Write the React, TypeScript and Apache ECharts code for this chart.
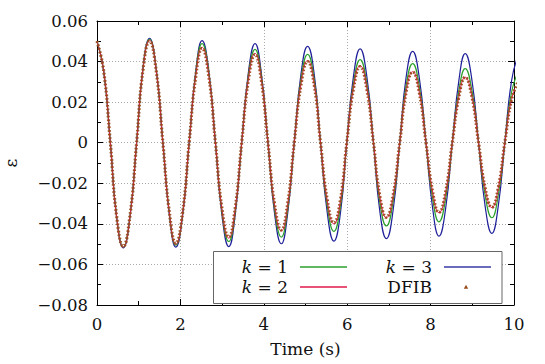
import React, { useEffect, useRef } from "react";
import * as echarts from "echarts";

const times = [
  0, 0.16, 0.32, 0.47, 0.63, 0.79, 0.95, 1.1,
  1.26, 1.42, 1.58, 1.74, 1.89, 2.05, 2.21, 2.37,
  2.52, 2.68, 2.84, 3.0, 3.16, 3.31, 3.47, 3.63,
  3.79, 3.94, 4.1, 4.26, 4.42, 4.57, 4.73, 4.89,
  5.05, 5.21, 5.36, 5.52, 5.68, 5.84, 5.99, 6.15,
  6.31, 6.47, 6.63, 6.78, 6.94, 7.1, 7.26, 7.41,
  7.57, 7.73, 7.89, 8.05, 8.2, 8.36, 8.52, 8.68,
  8.83, 8.99, 9.15, 9.31, 9.47, 9.62, 9.78, 9.94,
  10.1,
];

const k1 = [
  0.05, 0.0354, 0, -0.0364, -0.0515, -0.0364, 0, 0.0361,
  0.051, 0.0361, 0, -0.0357, -0.0505, -0.0357, 0, 0.0345,
  0.0488, 0.0345, 0, -0.0344, -0.0487, -0.0344, 0, 0.0325,
  0.046, 0.0325, 0, -0.0329, -0.0465, -0.0329, 0, 0.0308,
  0.0435, 0.0308, 0, -0.0309, -0.0437, -0.0309, 0, 0.029,
  0.041, 0.029, 0, -0.029, -0.041, -0.029, 0, 0.0276,
  0.039, 0.0276, 0, -0.0276, -0.039, -0.0276, 0, 0.0258,
  0.0365, 0.0258, 0, -0.0262, -0.037, -0.0262, 0, 0.0247,
  0.035,
];

const k2 = [
  0.05, 0.0354, 0, -0.0364, -0.0515, -0.0364, 0, 0.0357,
  0.0505, 0.0357, 0, -0.0354, -0.05, -0.0354, 0, 0.0332,
  0.047, 0.0332, 0, -0.0332, -0.047, -0.0332, 0, 0.0311,
  0.044, 0.0311, 0, -0.0308, -0.0435, -0.0308, 0, 0.0286,
  0.0405, 0.0286, 0, -0.0283, -0.04, -0.0283, 0, 0.0269,
  0.038, 0.0269, 0, -0.0262, -0.037, -0.0262, 0, 0.0247,
  0.035, 0.0247, 0, -0.0244, -0.0345, -0.0244, 0, 0.0228,
  0.0323, 0.0228, 0, -0.0226, -0.032, -0.0226, 0, 0.0212,
  0.03,
];

const k3 = [
  0.05, 0.0354, 0, -0.0366, -0.0518, -0.0366, 0, 0.0364,
  0.0515, 0.0364, 0, -0.0364, -0.0515, -0.0364, 0, 0.0356,
  0.0503, 0.0356, 0, -0.0362, -0.0512, -0.0362, 0, 0.0345,
  0.0488, 0.0345, 0, -0.0352, -0.0498, -0.0352, 0, 0.0336,
  0.0475, 0.0336, 0, -0.0343, -0.0485, -0.0343, 0, 0.0327,
  0.0463, 0.0327, 0, -0.0334, -0.0473, -0.0334, 0, 0.0318,
  0.045, 0.0318, 0, -0.0325, -0.046, -0.0325, 0, 0.031,
  0.0439, 0.031, 0, -0.0316, -0.0447, -0.0316, 0, 0.0304,
  0.043,
];

const dfib = [
  0.05, 0.0354, 0, -0.0361, -0.051, -0.0361, 0, 0.0354,
  0.05, 0.0354, 0, -0.035, -0.0495, -0.035, 0, 0.0329,
  0.0465, 0.0329, 0, -0.0329, -0.0465, -0.0329, 0, 0.0308,
  0.0435, 0.0308, 0, -0.0304, -0.043, -0.0304, 0, 0.0283,
  0.04, 0.0283, 0, -0.0279, -0.0394, -0.0279, 0, 0.0265,
  0.0375, 0.0265, 0, -0.026, -0.0368, -0.026, 0, 0.0246,
  0.0348, 0.0246, 0, -0.0243, -0.0343, -0.0243, 0, 0.0228,
  0.0322, 0.0228, 0, -0.0225, -0.0318, -0.0225, 0, 0.0212,
  0.03,
];

const seriesNames = ["k = 1", "k = 2", "k = 3", "DFIB"];
const xTicks = [0, 2, 4, 6, 8, 10];
const yTicks = [-0.08, -0.06, -0.04, -0.02, 0, 0.02, 0.04, 0.06];

const FONT = "DejaVu Serif";
const C_K1 = "#2ca02c";
const C_K2 = "#e0184a";
const C_K3 = "#1f1f9a";
const C_DFIB = "#9a4a1a";

function pairs(v: number[]) {
  return times.map((t, i) => [t, v[i]]);
}

function fmtY(v: number) {
  if (Math.abs(v) < 1e-9) return "0";
  const s = Math.abs(v).toFixed(2);
  return (v < 0 ? "\u2212" : "") + s;
}

export default function App() {
  const ref = useRef<HTMLDivElement>(null);
  useEffect(() => {
    if (!ref.current) return;
    const chart = echarts.init(ref.current, null, { renderer: "svg" });
    const gridLeft = 97, gridTop = 21, gridRight = 31, gridBottom = 59;
    const axisCommon = {
      axisLine: { show: true, onZero: false, lineStyle: { color: "#000", width: 1 } },
      axisTick: { show: true, inside: true, length: 6, lineStyle: { color: "#000" } },
      minorTick: { show: true, splitNumber: 2, length: 4, lineStyle: { color: "#000" } },
    };
    const legendItem = (
      x: number, y: number, label: string, kind: "line" | "dot", color: string
    ) => {
      const els: any[] = [
        {
          type: "text",
          x: x,
          y: y,
          z: 101,
          style: {
            text: label,
            fontFamily: FONT,
            fontSize: 17,
            lineHeight: 16,
            fill: "#111",
            align: "right",
            verticalAlign: "middle",
            rich: {
              i: { fontFamily: FONT, fontStyle: "italic", fontSize: 17, lineHeight: 16, fill: "#111" },
              n: { fontFamily: FONT, fontSize: 17, lineHeight: 16, fill: "#111" },
            },
          },
        },
      ];
      if (kind === "line") {
        els.push({
          type: "line",
          z: 101,
          shape: { x1: x + 12, y1: y, x2: x + 59, y2: y },
          style: { stroke: color, lineWidth: 1.3 },
        });
      } else {
        els.push({
          type: "polygon",
          z: 101,
          shape: { points: [[x + 34, y - 2.2], [x + 36.2, y + 1.8], [x + 31.8, y + 1.8]] },
          style: { fill: color },
        });
      }
      return els;
    };
    chart.setOption({
      animation: false,
      backgroundColor: "#fff",
      textStyle: { fontFamily: FONT },
      grid: {
        left: gridLeft,
        top: gridTop,
        right: gridRight,
        bottom: gridBottom,
        containLabel: false,
        outerBoundsMode: "none",
      },
      xAxis: [
        {
          type: "value",
          min: 0,
          max: 10,
          interval: 2,
          position: "bottom",
          name: "Time (s)",
          nameLocation: "middle",
          nameGap: 35,
          nameTextStyle: { fontFamily: FONT, fontSize: 17, color: "#111" },
          axisLabel: {
            fontFamily: FONT,
            fontSize: 16.5,
            color: "#111",
            margin: 11,
            formatter: (v: number) => (xTicks.includes(v) ? String(v) : ""),
          },
          splitLine: { show: true, lineStyle: { color: "#aaa", type: [1, 2], width: 1 } },
          ...axisCommon,
        },
        {
          type: "value",
          min: 0,
          max: 10,
          interval: 2,
          position: "top",
          axisLabel: { show: false },
          splitLine: { show: false },
          ...axisCommon,
        },
      ],
      yAxis: [
        {
          type: "value",
          min: -0.08,
          max: 0.06,
          interval: 0.02,
          position: "left",
          name: "\u03b5",
          nameLocation: "middle",
          nameGap: 78,
          nameRotate: 90,
          nameTextStyle: { fontFamily: FONT, fontSize: 17, color: "#111" },
          axisLabel: {
            fontFamily: FONT,
            fontSize: 16.5,
            color: "#111",
            margin: 9,
            formatter: (v: number) =>
              yTicks.some((t) => Math.abs(t - v) < 1e-9) ? fmtY(v) : "",
          },
          splitLine: { show: true, lineStyle: { color: "#aaa", type: [1, 2], width: 1 } },
          ...axisCommon,
        },
        {
          type: "value",
          min: -0.08,
          max: 0.06,
          interval: 0.02,
          position: "right",
          axisLabel: { show: false },
          splitLine: { show: false },
          ...axisCommon,
        },
      ],
      series: [
        {
          name: seriesNames[2],
          type: "line",
          data: pairs(k3),
          smooth: true,
          symbol: "none",
          lineStyle: { color: C_K3, width: 1.2 },
          z: 2,
        },
        {
          name: seriesNames[0],
          type: "line",
          data: pairs(k1),
          smooth: true,
          symbol: "none",
          lineStyle: { color: C_K1, width: 1.2 },
          z: 3,
        },
        {
          name: seriesNames[1],
          type: "line",
          data: pairs(k2),
          smooth: true,
          symbol: "none",
          lineStyle: { color: C_K2, width: 1 },
          z: 4,
        },
        {
          name: seriesNames[3],
          type: "line",
          data: pairs(dfib),
          smooth: true,
          symbol: "none",
          lineStyle: { color: C_DFIB, width: 3.2, type: [1.6, 2], opacity: 0.95 },
          z: 5,
        },
      ],
      graphic: [
        {
          type: "rect",
          z: 100,
          shape: { x: 213.5, y: 251.5, width: 288.5, height: 52 },
          style: { fill: "#fff", stroke: "#666", lineWidth: 1 },
        },
        ...legendItem(288, 267, "{i|k} {n|= 1}", "line", C_K1),
        ...legendItem(288, 287, "{i|k} {n|= 2}", "line", C_K2),
        ...legendItem(432, 267, "{i|k} {n|= 3}", "line", "#3a3aa8"),
        ...legendItem(432, 287, "{n|DFIB}", "dot", C_DFIB),
      ],
    });
    return () => chart.dispose();
  }, []);
  return <div ref={ref} style={{ width: 545, height: 364, position: "absolute", left: 0, top: 0 }} />;
}
